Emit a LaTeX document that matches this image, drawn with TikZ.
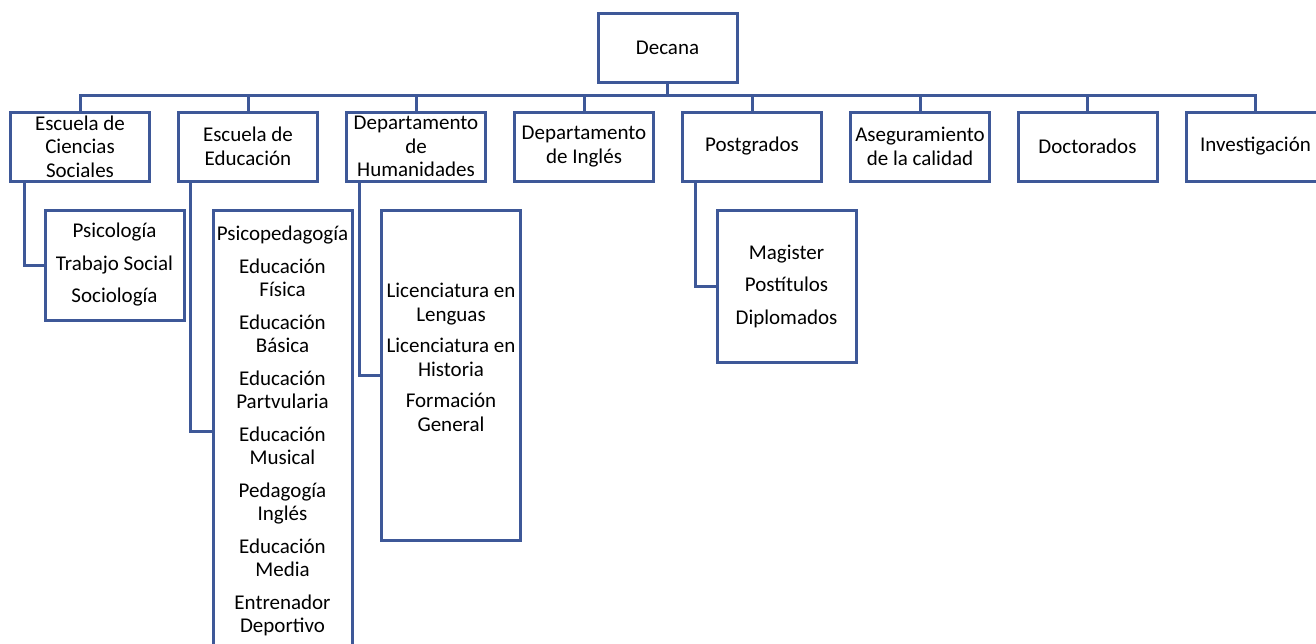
\documentclass[tikz,border=0pt]{standalone}
\usepackage{fontspec}
\setmainfont{Carlito}
\definecolor{orgblue}{RGB}{62,88,152}
\newcommand{\orgfont}{\fontsize{21}{23.5}\selectfont}
\tikzset{
  unitbox/.style={draw=orgblue,line width=3pt,minimum width=139pt,minimum height=69pt,inner sep=2pt,align=center,font=\orgfont},
  listbox/.style={draw=orgblue,line width=3pt,minimum width=139pt,inner sep=2pt,align=center,font=\orgfont},
  link/.style={draw=orgblue,line width=3pt}
}
\begin{document}
\begin{tikzpicture}[x=1pt,y=-1pt]
 \useasboundingbox (0,0) rectangle (1316,643);
 \clip (0,0) rectangle (1316,643);
 \fill[white] (0,0) rectangle (1316,643);
 \node[unitbox] (decana) at (667.5,47.5) {Decana};
 \node[unitbox] (soc) at (80,146.5) {Escuela de\\Ciencias\\Sociales};
 \node[unitbox] (edu) at (248,146.5) {Escuela de\\Educación};
 \node[unitbox] (hum) at (416,146.5) {Departamento\\de\\Humanidades};
 \node[unitbox] (ing) at (584,146.5) {Departamento\\de Inglés};
 \node[unitbox] (posg) at (752,146.5) {Postgrados};
 \node[unitbox] (cal) at (920,146.5) {Aseguramiento\\de la calidad};
 \node[unitbox] (doc) at (1087.5,146.5) {Doctorados};
 \node[unitbox] (inv) at (1255.5,146.5) {Investigación};
 \node[listbox,minimum height=110pt] (soclist) at (114.5,265) {Psicología\\[9pt]Trabajo Social\\[9pt]Sociología};
 \node[listbox,minimum height=442pt] (edulist) at (282.5,431) {Psicopedagogía\\[9pt]Educación\\Física\\[9pt]Educación\\Básica\\[9pt]Educación\\Partvularia\\[9pt]Educación\\Musical\\[9pt]Pedagogía\\Inglés\\[9pt]Educación\\Media\\[9pt]Entrenador\\Deportivo};
 \node[listbox,minimum height=330pt] (humlist) at (451,375) {};
 \node[align=center,font=\orgfont] (humtext) at (451,357.5) {Licenciatura en\\Lenguas\\[8pt]Licenciatura en\\Historia\\[8pt]Formación\\General};
 \node[listbox,minimum height=152pt] (posglist) at (786.5,286) {Magister\\[9pt]Postítulos\\[9pt]Diplomados};
 \draw[link] (decana.south) -- ++(0,12);
 \draw[link] (soc.north) -- ++(0,-15) -| (inv.north);
 \draw[link] (edu.north) -- ++(0,-15);
 \draw[link] (hum.north) -- ++(0,-15);
 \draw[link] (ing.north) -- ++(0,-15);
 \draw[link] (posg.north) -- ++(0,-15);
 \draw[link] (cal.north) -- ++(0,-15);
 \draw[link] (doc.north) -- ++(0,-15);
 \draw[link] (soc.south west) ++(15,0) |- (soclist.west);
 \draw[link] (edu.south west) ++(13,0) |- (edulist.west);
 \draw[link] (hum.south west) ++(14,0) |- (humlist.west);
 \draw[link] (posg.south west) ++(14,0) |- (posglist.west);
\end{tikzpicture}
\end{document}
